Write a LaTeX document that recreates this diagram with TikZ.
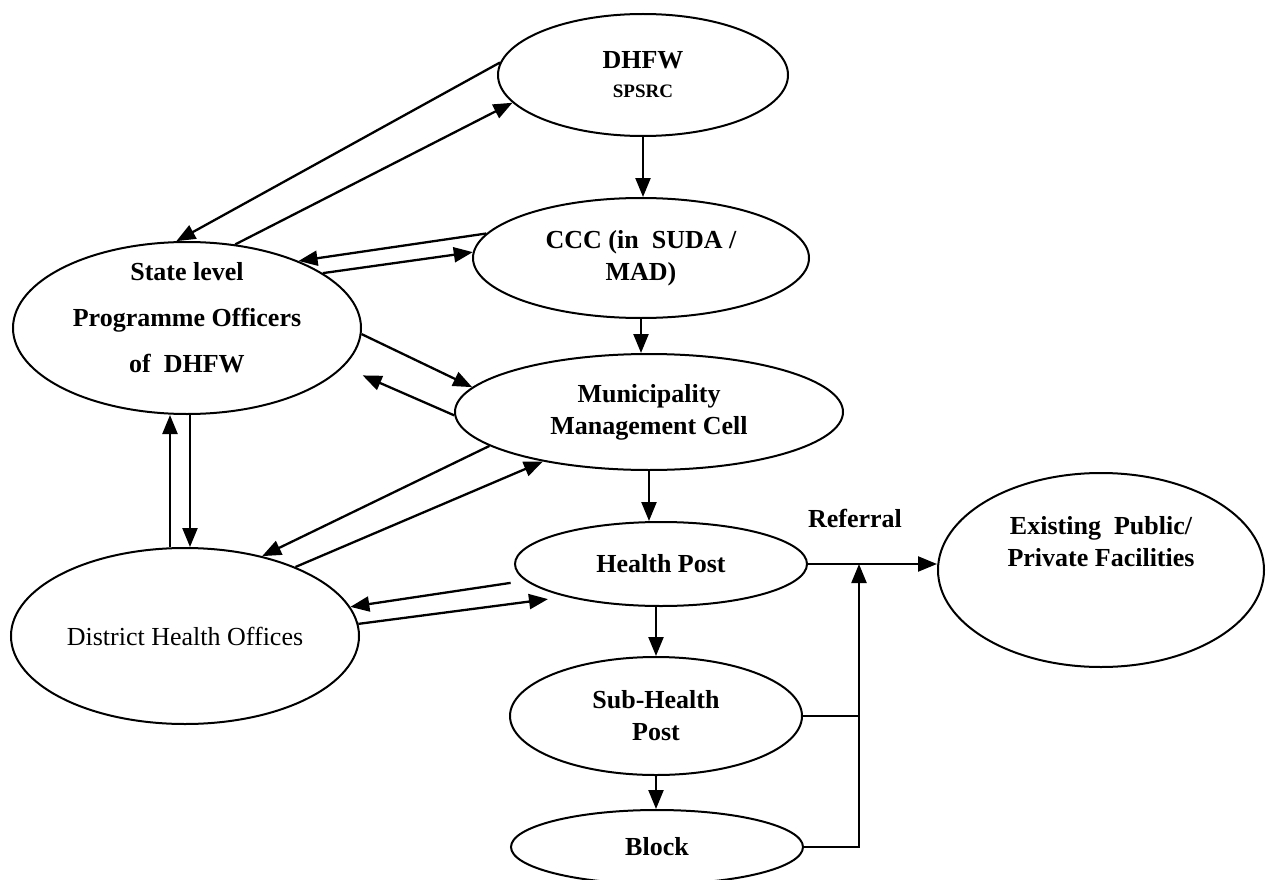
\documentclass[tikz,border=0pt]{standalone}
\usepackage{fontspec}
\setmainfont{Liberation Serif}
\usetikzlibrary{shapes.geometric,arrows.meta,positioning,calc}

\tikzset{
  unit/.style={ellipse, draw, line width=2pt, inner sep=0pt, align=center,
    font=\bfseries\fontsize{26}{32}\selectfont},
  txt/.style={align=center, font=\bfseries\fontsize{26}{32}\selectfont},
  link/.style={line width=2.3pt, -{Triangle[length=19pt,width=15pt]}},
}

\begin{document}
\begin{tikzpicture}[x=1pt, y=-1pt]
  \useasboundingbox (0,0) rectangle (1266,880);

  % units
  \node[unit, minimum width=290pt, minimum height=122pt] (dhfw) at (643,75)
    {DHFW\\[-3pt]{\fontsize{19}{22}\selectfont SPSRC}};
  \node[unit, minimum width=336pt, minimum height=120pt] (ccc) at (641,258)
    {CCC (in\ \ SUDA /\\MAD)};
  \node[unit, minimum width=348pt, minimum height=172pt] (state) at (187,328) {};
  \node[txt] at ([yshift=10pt]state.center)
    {State level\\[14pt]Programme Officers\\[14pt]of\ \ DHFW};
  \node[unit, minimum width=388pt, minimum height=116pt] (muni) at (649,412)
    {Municipality\\Management Cell};
  \node[unit, minimum width=292pt, minimum height=84pt] (hp) at (661,564) {Health Post};
  \node[unit, minimum width=348pt, minimum height=176pt,
    font=\fontsize{26}{32}\selectfont] (district) at (185,636) {District Health Offices};
  \node[unit, minimum width=292pt, minimum height=118pt] (shp) at (656,716) {Sub-Health\\Post};
  \node[unit, minimum width=292pt, minimum height=74pt] (block) at (657,847) {Block};
  \node[unit, minimum width=326pt, minimum height=194pt] (exist) at (1101,570) {};
  \node[txt] at ([yshift=28pt]exist.center) {Existing\ \ Public/\\Private Facilities};

  \coordinate (jn) at ([xshift=51pt]hp.east);
  \node[txt] (referral) at ([xshift=-4pt,yshift=46pt]jn) {Referral};

  % flows
  \draw[link] (dhfw.175) -- (state.97);
  \draw[link] (state.60) -- (dhfw.192);
  \draw[link] (dhfw.south) -- (dhfw.south |- ccc.north);
  \draw[link] (ccc.171) -- (state.31);
  \draw[link] (state.22) -- (ccc.178);
  \draw[link] (ccc.south) -- (ccc.south |- muni.north);
  \draw[link] (state.-2) -- (muni.172);
  \draw[link, shorten >=21pt] (muni.181) -- (state.-14);
  \draw[link] ([xshift=-15pt]district.north) -- ([xshift=-17pt]state.south);
  \draw[link] ([xshift=3pt]state.south) -- ([xshift=5pt]district.north);
  \draw[link] (muni.192) -- (district.46);
  \draw[link] (district.32) -- (muni.205);
  \draw[link] (muni.south) -- (muni.south |- hp.north);
  \draw[link, shorten <=15pt] (hp.187) -- (district.10);
  \draw[link, shorten >=18pt] (district.4) -- (hp.199);
  \draw[link] (hp.south -| shp.north) -- (shp.north);
  \draw[link] (shp.south) -- (shp.south |- block.north);

  % referral
  \draw[link] (hp.east) -- (hp.east -| exist.west);
  \draw[link, -] (shp.east) -- (shp.east -| jn);
  \draw[link] (block.east) -| (jn);
\end{tikzpicture}
\end{document}
